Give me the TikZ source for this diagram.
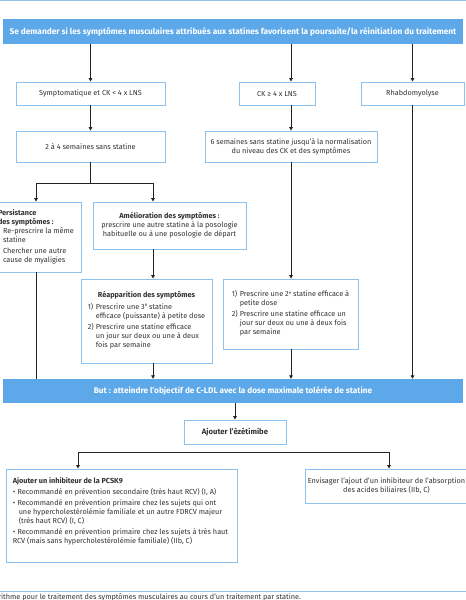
\documentclass[tikz,border=0pt]{standalone}
\usepackage{fontspec}
\setmainfont{Fira Sans}
\usetikzlibrary{arrows.meta}
\definecolor{hdr}{RGB}{92,168,232}
\definecolor{bord}{RGB}{140,194,240}
\definecolor{txt}{RGB}{50,50,50}
\definecolor{lnk}{RGB}{35,35,35}
\newcommand{\supe}{\raisebox{2.8pt}{\fontsize{4.4}{4.4}\selectfont e}}
\tikzset{
  hbox/.style={fill=hdr, draw=none, text=white, inner sep=0pt,
    font=\fontsize{8.2}{9}\selectfont\bfseries},
  wbox/.style={draw=bord, line width=0.9pt, fill=white, text=txt, inner sep=0pt,
    align=center, font=\fontsize{7.3}{9}\selectfont},
  plaintxt/.style={text=txt, inner sep=0pt, align=left, font=\fontsize{7.3}{9.3}\selectfont},
  arr/.style={draw=lnk, line width=0.8pt, -{Triangle[length=3.5pt,width=3.6pt]}},
  conn/.style={draw=lnk, line width=0.8pt},
  rule/.style={draw=bord, line width=1pt},
}
\begin{document}
\begin{tikzpicture}
\useasboundingbox (0pt,0pt) rectangle (466pt,-600pt);
% rules
\coordinate (tl) at (0pt,-0.5pt);
\coordinate (tr) at (466pt,-0.5pt);
\draw[rule] (tl) -- (tr);
\coordinate (bl) at (0pt,-591pt);
\coordinate (br) at (466pt,-591pt);
\draw[rule] (bl) -- (br);

\node[hbox, minimum width=460pt, minimum height=25pt, font=\fontsize{8.3}{9}\selectfont\bfseries] (header) at (233pt,-31.5pt)
  {Se demander si les symptômes musculaires attribués aux statines favorisent la poursuite/la réinitiation du traitement};

\node[wbox, minimum width=149pt, minimum height=23pt] (symp) at (90.5pt,-93.5pt) {Symptomatique et CK < 4 x LNS};
\node[wbox, minimum width=76pt, minimum height=23pt] (ck) at (277pt,-93.5pt) {CK ≥ 4 x LNS};
\node[wbox, minimum width=103pt, minimum height=23pt] (rhabdo) at (412.5pt,-93.5pt) {Rhabdomyolyse};

\node[wbox, minimum width=149pt, minimum height=31pt] (deux) at (90.5pt,-146.5pt) {2 à 4 semaines sans statine};
\node[wbox, minimum width=172pt, minimum height=31pt] (six) at (291pt,-146.5pt)
  {6 semaines sans statine jusqu'à la normalisation\\du niveau des CK et des symptômes};

\node[wbox, minimum width=90pt, minimum height=70pt] (pers) at (36pt,-237pt)
  {\begin{tabular}{@{}l@{}}\textbf{Persistance}\\ \textbf{des symptômes :}\\[0.5pt]
   \hspace*{5pt}Re-prescrire la même\\ \hspace*{5pt}statine\\[2pt]
   \hspace*{5pt}Chercher une autre\\ \hspace*{5pt}cause de myaligies\end{tabular}};

\node[wbox, minimum width=153pt, minimum height=47pt] (amel) at (169.5pt,-225.5pt)
  {\textbf{Amélioration des symptômes :}\\prescrire une autre statine à la posologie\\habituelle ou à une posologie de départ};

\node[wbox, minimum width=131pt, minimum height=84pt] (reap) at (146.5pt,-321pt)
  {\textbf{Réapparition des symptômes}\\[3pt]
   \begin{tabular}{@{}l@{\hspace{2pt}}l@{}}
   1) & Prescrire une 3\supe{} statine\\
      & efficace (puissante) à petite dose\\[2pt]
   2) & Prescrire une statine efficace\\
      & un jour sur deux ou une à deux\\
      & fois par semaine
   \end{tabular}};

\node[wbox, minimum width=135pt, minimum height=70pt] (deuxieme) at (290.5pt,-314pt)
  {\begin{tabular}{@{}l@{\hspace{2pt}}l@{}}
   1) & Prescrire une 2\supe{} statine efficace à\\
      & petite dose\\[2pt]
   2) & Prescrire une statine efficace un\\
      & jour sur deux ou une à deux fois\\
      & par semaine
   \end{tabular}};

\node[hbox, minimum width=460pt, minimum height=24pt] (but) at (233pt,-391pt)
  {But : atteindre l'objectif de C-LDL avec la dose maximale tolérée de statine};

\node[wbox, minimum width=102pt, minimum height=24pt, font=\fontsize{7.7}{9}\selectfont\bfseries] (ezet) at (235pt,-432pt) {Ajouter l'ézétimibe};

\node[wbox, minimum width=231pt, minimum height=93pt] (pcsk) at (121.5pt,-515.5pt) {};
\node[plaintxt, anchor=north west] (pcsktxt) at ([xshift=7pt,yshift=-9pt]pcsk.north west)
  {\textbf{Ajouter un inhibiteur de la PCSK9}\\[1.5pt]
   \textbullet\hspace{2.5pt}Recommandé en prévention secondaire (très haut RCV) (I, A)\\[1.5pt]
   \textbullet\hspace{2.5pt}Recommandé en prévention primaire chez les sujets qui ont\\
   \hspace*{6pt}une hypercholestérolémie familiale et un autre FDRCV majeur\\
   \hspace*{6pt}(très haut RCV) (I, C)\\[1.5pt]
   \textbullet\hspace{2.5pt}Recommandé en prévention primaire chez les sujets à très haut\\
   RCV (mais sans hypercholestérolémie familiale) (IIb, C)};

\node[wbox, minimum width=163pt, minimum height=34pt] (acides) at (386.5pt,-486pt)
  {Envisager l'ajout d'un inhibiteur de l'absorption\\des acides biliaires (IIb, C)};

\node[text=txt, inner sep=0pt, anchor=base east, font=\fontsize{7.3}{9}\selectfont] (caption) at (301pt,-599pt)
  {Algorithme pour le traitement des symptômes musculaires au cours d'un traitement par statine.};

% helper x positions
\coordinate (x153) at (153pt,0pt);
\coordinate (x78) at (78pt,-452pt);
\coordinate (x389) at (389pt,-452pt);
\coordinate (split) at (234pt,-183pt);

% connectors
\draw[arr] (header.south -| symp.north) -- (symp.north);
\draw[arr] (header.south -| six.north) -- (ck.north -| six.north);
\draw[arr] (header.south -| rhabdo.north) -- (rhabdo.north);
\draw[arr] (symp.south) -- (deux.north);
\draw[arr] (ck.south -| six.north) -- (six.north);
\draw[conn] (deux.south) -- (deux.south |- split);
\draw[arr] (deux.south |- split) -| (pers.north);
\draw[arr] (deux.south |- split) -| (amel.north -| x153);
\draw[conn] (pers.south) -- (pers.south |- but.north);
\draw[arr] (amel.south -| x153) -- (reap.north -| x153);
\draw[arr] (reap.south -| x153) -- (but.north -| x153);
\draw[arr] (six.south) -- (deuxieme.north -| six.south);
\draw[arr] (deuxieme.south -| six.south) -- (but.north -| six.south);
\draw[arr] (rhabdo.south) -- (but.north -| rhabdo.south);
\draw[arr] (but.south -| ezet.north) -- (ezet.north);
\draw[arr] (ezet.south |- x78) -- (x78) -- (pcsk.north -| x78);
\draw[arr] (ezet.south |- x389) -- (x389) -- (acides.north -| x389);
\end{tikzpicture}
\end{document}
